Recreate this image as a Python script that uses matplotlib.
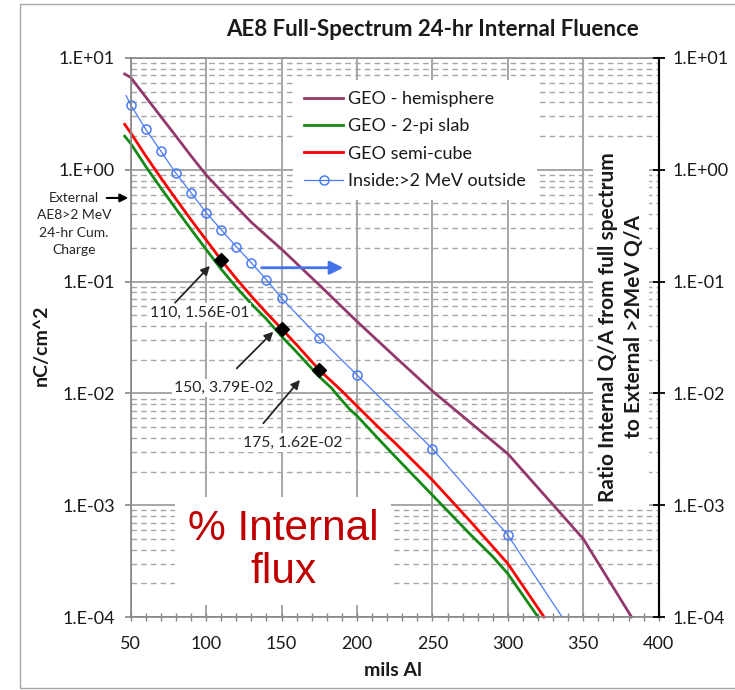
import math
import matplotlib
matplotlib.use("Agg")
import matplotlib.pyplot as plt
from matplotlib.ticker import LogLocator, MultipleLocator, FuncFormatter, NullLocator, FixedLocator
from matplotlib.patches import Rectangle

plt.rcParams['font.family'] = ['Lato', 'DejaVu Sans']

# ---------------- data ----------------
x_hemi = [46, 50, 60, 70, 80, 90, 100, 110, 120, 130, 142, 150, 175, 200, 225, 250, 275, 300, 325, 350, 382]
y_hemi = [7.2, 6.7, 4.47, 2.99, 2.0, 1.33, 0.90, 0.645, 0.468, 0.339, 0.243, 0.195, 0.0933, 0.044, 0.0214,
          0.0105, 0.0055, 0.00288, 0.0012, 5.0e-4, 1.0e-4]

x_slab = [46, 50, 60, 70, 80, 90, 100, 110, 120, 130, 140, 150, 160, 175, 183, 188, 195, 200, 215, 225, 250,
          275, 290, 300, 320]
y_slab = [2.0, 1.72, 1.07, 0.687, 0.447, 0.293, 0.194, 0.129, 0.0891, 0.0631, 0.0462, 0.0324, 0.0234, 0.0141,
          0.0112, 0.0093, 0.00724, 0.0063, 0.00382, 0.00275, 0.00123, 5.5e-4, 3.47e-4, 2.44e-4, 1.0e-4]

x_cube = [46, 50, 60, 70, 80, 90, 100, 110, 120, 130, 140, 150, 160, 175, 190, 200, 215, 225, 250, 275, 300, 324]
y_cube = [2.55, 2.14, 1.33, 0.847, 0.547, 0.357, 0.236, 0.156, 0.106, 0.0741, 0.0525, 0.0379, 0.0272, 0.0162,
          0.0105, 0.0077, 0.00486, 0.00363, 0.00168, 7.2e-4, 3.0e-4, 1.0e-4]

x_inside = [47, 50, 60, 70, 80, 90, 100, 110, 120, 130, 140, 150, 175, 200, 250, 300, 336]
y_inside = [4.6, 3.81, 2.30, 1.47, 0.93, 0.624, 0.414, 0.291, 0.205, 0.147, 0.104, 0.071, 0.0315, 0.0146,
            0.0032, 5.4e-4, 1.0e-4]
inside_marked = list(range(1, 16))

labels = ["GEO - hemisphere", "GEO - 2-pi slab", "GEO semi-cube", "Inside:>2 MeV outside"]

pt_x = [110, 150, 175]
pt_y = [0.156, 0.0379, 0.0162]
pt_text = ["110, 1.56E-01", "150, 3.79E-02", "175, 1.62E-02"]

x_ticks = [50, 100, 150, 200, 250, 300, 350, 400]
y_ticks = [1e-4, 1e-3, 1e-2, 1e-1, 1e0, 1e1]

# ---------------- figure ----------------
W, H = 735, 690
fig = plt.figure(figsize=(W / 100, H / 100), dpi=100)
fig.patch.set_facecolor('white')
fig.patches.append(Rectangle((20 / W, 2 / H), 1.2, (H - 6) / H, transform=fig.transFigure,
                             fill=False, ec='#A6A6A6', lw=1.0))

ax = fig.add_axes([130.7 / W, 1 - 617 / H, 528 / W, 559 / H])
ax.set_yscale('log')
ax.set_xlim(50, 400)
ax.set_ylim(1e-4, 10)
ax.set_axisbelow(True)

grid_c = '#A6A6A6'
ax.xaxis.set_major_locator(FixedLocator(x_ticks))
ax.xaxis.set_minor_locator(MultipleLocator(10))
ax.yaxis.set_major_locator(FixedLocator(y_ticks))
ax.yaxis.set_minor_locator(LogLocator(base=10, subs=range(2, 10)))
ax.grid(which='major', axis='both', color=grid_c, lw=1.4, ls='-')
ax.grid(which='minor', axis='y', color=grid_c, lw=1.0, ls=(0, (4, 3)))

fmt = FuncFormatter(lambda v, p: "1.E{:+03d}".format(int(round(math.log10(v)))))
ax.yaxis.set_major_formatter(fmt)
ax.yaxis.set_minor_formatter(FuncFormatter(lambda v, p: ""))

tick_fs = 13
ax.tick_params(axis='y', which='major', direction='out', length=4.3, width=1.2, color='#868686',
               labelsize=tick_fs, pad=7, labelcolor='#1a1a1a')
ax.tick_params(axis='y', which='minor', length=0)
ax.tick_params(axis='x', which='both', direction='inout', length=5.5, width=1.0, color='#868686',
               labelsize=tick_fs, pad=11, labelcolor='#1a1a1a')
for s in ['left', 'bottom', 'top']:
    ax.spines[s].set_color('#868686')
    ax.spines[s].set_linewidth(1.2)
ax.spines['right'].set_color('black')
ax.spines['right'].set_linewidth(1.5)

ax2 = ax.twinx()
ax2.set_yscale('log')
ax2.set_ylim(1e-4, 10)
ax2.yaxis.set_major_locator(FixedLocator(y_ticks))
ax2.yaxis.set_minor_locator(NullLocator())
ax2.yaxis.set_major_formatter(fmt)
ax2.tick_params(axis='y', which='major', direction='inout', length=8.6, width=1.3, color='black',
                labelsize=tick_fs, pad=6, labelcolor='#1a1a1a')
for s in ['left', 'bottom', 'top']:
    ax2.spines[s].set_visible(False)
ax2.spines['right'].set_color('black')
ax2.spines['right'].set_linewidth(1.5)

# ---------------- series ----------------
ax.plot(x_hemi, y_hemi, color='#93386A', lw=2.0, label=labels[0], clip_on=False, zorder=2)
ax.plot(x_slab, y_slab, color='#138A13', lw=2.0, label=labels[1], clip_on=False, zorder=2)
ax.plot(x_cube, y_cube, color='#FF0000', lw=2.0, label=labels[2], clip_on=False, zorder=2)
ax.plot(x_inside, y_inside, color='#4A7BF7', lw=0.9, marker='o', ms=6.5, mfc='none', mec='#4A7BF7',
        mew=1.1, markevery=inside_marked, label=labels[3], clip_on=False, zorder=2)

ax.plot(pt_x, pt_y, ls='none', marker='D', ms=7.5, color='black', zorder=4)

# annotation texts and arrows
txt_pos = [(95.5, 0.0527), (111.8, 0.01117), (157.6, 0.00362)]
arr_tail = [(79.4, 0.0647), (120.3, 0.01675), (137.9, 0.0054)]
arr_head = [(102.5, 0.138), (144.5, 0.0356), (162.2, 0.0132)]
for t, (tx, ty), tail, head in zip(pt_text, txt_pos, arr_tail, arr_head):
    ax.text(tx, ty, t, ha='center', va='center', fontsize=11.3, color='#262626', zorder=3,
            bbox=dict(boxstyle='square,pad=0.15', fc='white', ec='none'))
    ax.annotate("", xy=head, xytext=tail,
                arrowprops=dict(arrowstyle='-|>', color='#262626', lw=1.3, mutation_scale=13,
                                shrinkA=0, shrinkB=0), zorder=4)

# blue arrow
ax.annotate("", xy=(190.9, 0.133), xytext=(136.8, 0.133),
            arrowprops=dict(arrowstyle='-|>', color='#4472E8', lw=2.0, mutation_scale=20,
                            shrinkA=0, shrinkB=0), zorder=4)

# external charge arrow + text
ax.annotate("", xy=(48.4, 0.56), xytext=(34.1, 0.56), annotation_clip=False,
            arrowprops=dict(arrowstyle='-|>', color='black', lw=1.5, mutation_scale=12,
                            shrinkA=0, shrinkB=0))
fig.text(74 / W, 1 - 224 / H, "External\nAE8>2 MeV\n24-hr Cum.\nCharge", ha='center', va='center',
         fontsize=10, color='#262626', linespacing=1.55)

# % Internal flux
ax.text(151, 3.9e-4, "% Internal\nflux", ha='center', va='center', fontsize=30.5, color='#C00000',
        family=['Liberation Sans', 'DejaVu Sans'], linespacing=1.1, zorder=3,
        bbox=dict(boxstyle='square,pad=0.3', fc='white', ec='none'))

# right axis title inside plot
ax.text((621 - 130.7) / 528, (617 - 327) / 559,
        "Ratio Internal Q/A from full spectrum\nto External >2MeV Q/A",
        transform=ax.transAxes, rotation=90, ha='center', va='center', fontsize=15,
        fontweight='bold', color='#1a1a1a', linespacing=1.4, zorder=3,
        bbox=dict(boxstyle='square,pad=0.25', fc='white', ec='none'))

# legend
leg = ax.legend(loc='upper left', bbox_to_anchor=(0.290, 0.976), fontsize=13, frameon=True,
                handlelength=2.2, handletextpad=0.25, labelspacing=0.62, borderpad=0.6,
                fancybox=False)
leg.get_frame().set_facecolor('white')
leg.get_frame().set_edgecolor('none')
leg.get_frame().set_alpha(1)
leg.set_zorder(5)
for txt in leg.get_texts():
    txt.set_color('#1a1a1a')

# titles
fig.text(433 / W, 1 - 30 / H, "AE8 Full-Spectrum 24-hr Internal Fluence", ha='center', va='center',
         fontsize=16, fontweight='bold', color='#1a1a1a')
fig.text(393 / W, 1 - 671 / H, "mils Al", ha='center', va='center', fontsize=14,
         fontweight='bold', color='#1a1a1a')
fig.text(41 / W, 1 - 345 / H, "nC/cm^2", ha='center', va='center', rotation=90, fontsize=14,
         fontweight='bold', color='#1a1a1a')

fig.savefig("out.png", dpi=100, facecolor='white')
